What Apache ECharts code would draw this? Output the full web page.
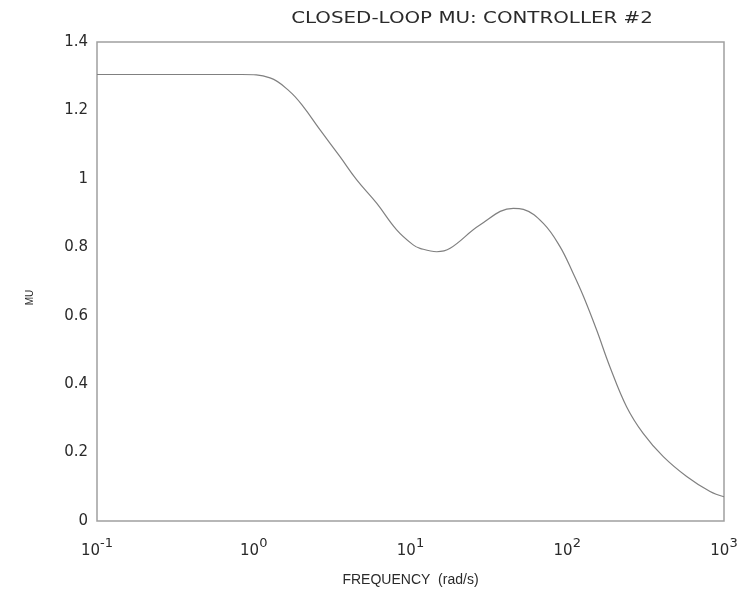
<!DOCTYPE html>
<html>
<head>
<meta charset="utf-8">
<script src="https://cdn.jsdelivr.net/npm/echarts@6/dist/echarts.min.js"></script>
<style>
  html, body { margin: 0; padding: 0; background: #fff; }
  #chart { width: 749px; height: 601px; }
</style>
</head>
<body>
<div id="chart"></div>
<script>
// Closed-loop structured singular value vs. frequency
const frequency = [0.1, 0.3, 0.6, 0.84, 1.27, 1.70, 2.07, 2.65, 3.55, 4.54, 6.08, 8.16,
  10.4, 11.5, 14.7, 17.9, 27.7, 45.3, 52.5, 70.4, 89.9, 109, 127, 154, 187, 239, 305, 410, 578, 815, 1000];
const mu = [1.305, 1.305, 1.305, 1.305, 1.295, 1.255, 1.211, 1.143, 1.065, 0.997, 0.929, 0.851,
  0.807, 0.797, 0.787, 0.797, 0.865, 0.914, 0.911, 0.870, 0.802, 0.724, 0.656, 0.558, 0.451, 0.334, 0.256, 0.188, 0.130, 0.086, 0.071];
const yTicks = [0, 0.2, 0.4, 0.6, 0.8, 1, 1.2, 1.4];
const titleText = 'CLOSED-LOOP MU: CONTROLLER #2';

const points = frequency.map((f, i) => [f, mu[i]]);
const sans = '"Liberation Sans", Arial, sans-serif';
const wide = '"DejaVu Sans", Verdana, sans-serif';

const chart = echarts.init(document.getElementById('chart'));
chart.setOption({
  animation: false,
  // title drawn as a horizontally widened text element
  graphic: [{
    type: 'text', x: 472, y: 19, scaleX: 1.24,
    style: {
      text: titleText, fill: '#2a2a2a',
      font: 'normal 16px ' + wide,
      align: 'center', verticalAlign: 'middle',
      textAlign: 'center', textVerticalAlign: 'middle'
    }
  }],
  grid: {
    left: 97, right: 25, top: 42, bottom: 80,
    show: true, borderColor: '#a0a0a0', borderWidth: 1.5, backgroundColor: '#fff'
  },
  xAxis: {
    type: 'log', logBase: 10, min: 0.1, max: 1000,
    name: 'FREQUENCY  (rad/s)', nameLocation: 'middle', nameGap: 52,
    nameTextStyle: { fontFamily: sans, fontSize: 14, color: '#2a2a2a' },
    axisLine: { show: false }, axisTick: { show: false }, splitLine: { show: false },
    axisLabel: {
      margin: 16,
      formatter: v => '{b|10}{s|' + Math.round(Math.log10(v)) + '}',
      rich: {
        b: { fontFamily: wide, fontSize: 15, color: '#2a2a2a' },
        s: { fontFamily: wide, fontSize: 13, color: '#2a2a2a', verticalAlign: 'bottom', padding: [0, 0, 16, 0] }
      }
    }
  },
  yAxis: {
    type: 'value', min: yTicks[0], max: yTicks[yTicks.length - 1], interval: 0.2,
    name: 'MU', nameLocation: 'middle', nameGap: 62, nameRotate: 90,
    nameTextStyle: { fontFamily: sans, fontSize: 10, color: '#2a2a2a', padding: [0, 32, 0, 0] },
    axisLine: { show: false }, axisTick: { show: false }, splitLine: { show: false },
    axisLabel: { fontFamily: wide, fontSize: 15, color: '#2a2a2a', margin: 9, padding: [3, 0, 0, 0] }
  },
  series: [{
    type: 'line', data: points, smooth: 0.4, showSymbol: false,
    lineStyle: { color: '#808080', width: 1.2 }
  }]
});
</script>
</body>
</html>
